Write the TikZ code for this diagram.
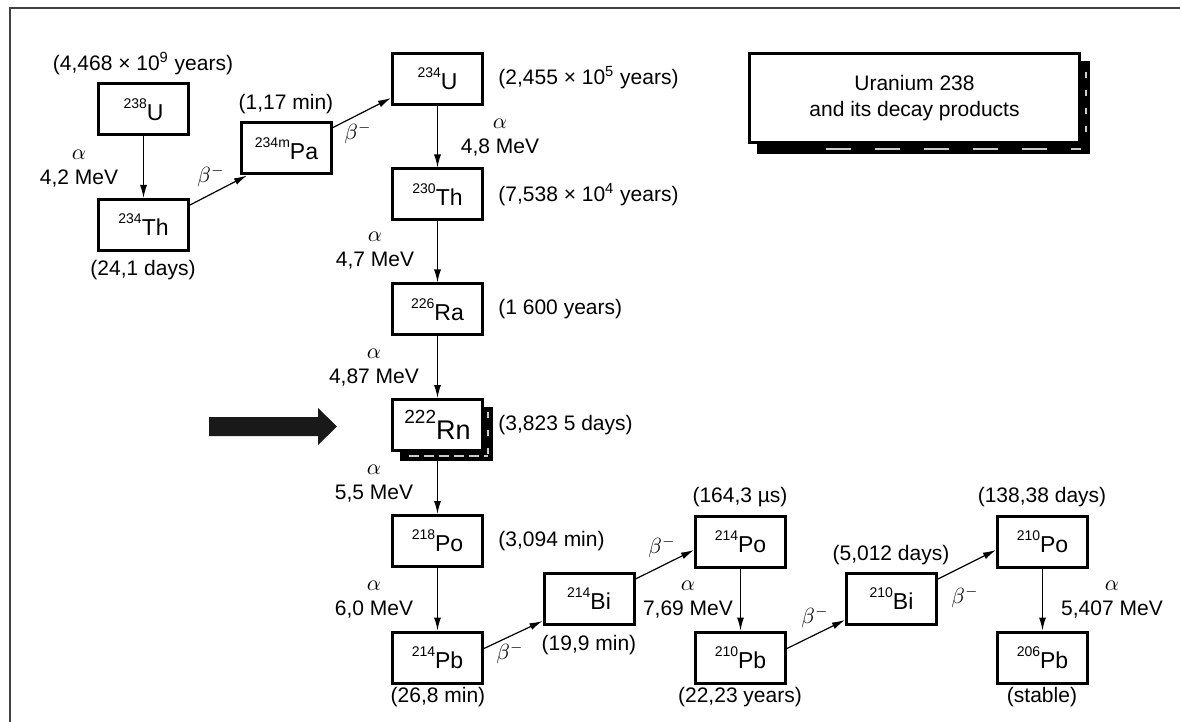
\documentclass[tikz,border=0pt]{standalone}
\usepackage{fontspec}
\setmainfont{Liberation Sans}
\usetikzlibrary{arrows.meta,positioning,calc,backgrounds}

\newcommand{\nucl}[2]{\raisebox{6pt}{\fontsize{7pt}{8pt}\selectfont #1}#2}

\begin{document}
\begin{tikzpicture}[x=0.5pt,y=-0.5pt,
    nuc/.style={draw, fill=white, line width=1.5pt, minimum width=45pt, minimum height=25.5pt, inner sep=0pt, font=\fontsize{11.5pt}{13pt}\selectfont},
    lbl/.style={font=\fontsize{10.5pt}{12.5pt}\selectfont, inner sep=0pt, align=center},
    decay/.style={-{Latex[length=6.5pt,width=3.5pt]}, line width=0.6pt},
    hdash/.style={draw=white!80!black, line width=0.6pt, dash pattern=on 5pt off 2.5pt},
    longdash/.style={draw=white!80!black, line width=0.6pt, dash pattern=on 12.5pt off 12pt},
    vdash/.style={draw=white!80!black, line width=0.6pt, dash pattern=on 3pt off 6pt}]
    \useasboundingbox (0,0) rectangle (1180,722);
    \draw[line width=1pt, black!75] (10,730) -- (10,8) -- (1190,8);

    % Uranium series
    \node[nuc] (u238) at (143.5,109.5) {\nucl{238}{U}};
    \node[nuc] (th234) at (143.5,225) {\nucl{234}{Th}};
    \node[nuc] (pa234) at (286.5,148.5) {\nucl{234m}{Pa}};
    \node[nuc] (u234) at (437.5,79) {\nucl{234}{U}};
    \node[nuc] (th230) at (437.5,194.5) {\nucl{230}{Th}};
    \node[nuc] (ra226) at (437.5,309.5) {\nucl{226}{Ra}};
    \node[nuc, font=\fontsize{13.5pt}{15pt}\selectfont] (rn222) at (437.5,425) {\raisebox{8pt}{\fontsize{9.5pt}{10pt}\selectfont 222}Rn};
    \node[nuc] (po218) at (437.5,541) {\nucl{218}{Po}};
    \node[nuc] (pb214) at (437.5,657.5) {\nucl{214}{Pb}};
    \node[nuc] (bi214) at (589,599) {\nucl{214}{Bi}};
    \node[nuc] (po214) at (740.5,542) {\nucl{214}{Po}};
    \node[nuc] (pb210) at (740.5,657.5) {\nucl{210}{Pb}};
    \node[nuc] (bi210) at (891.5,599) {\nucl{210}{Bi}};
    \node[nuc] (po210) at (1042.5,542) {\nucl{210}{Po}};
    \node[nuc] (pb206) at (1042.5,657.5) {\nucl{206}{Pb}};

    % Title
    \node[lbl, draw, fill=white, line width=1.5pt, minimum width=165pt, minimum height=44.5pt, font=\fontsize{10.5pt}{13pt}\selectfont] (title) at (914.5,98) {Uranium 238\\and its decay products};

    % Shadows
    \begin{scope}[on background layer]
        \fill ($(title.south west)+(9,10)$) rectangle ($(title.north east)+(9,9)$);
        \draw[longdash] ($(title.south west)+(78,5)$) -- ($(title.south east)+(0,5)$);
        \draw[vdash] ($(title.north east)+(5,20)$) -- ($(title.south east)+(5,0)$);
        \fill ($(rn222.south west)+(9,9)$) rectangle ($(rn222.north east)+(9,9)$);
        \draw[hdash] ($(rn222.south west)+(18,4)$) -- ($(rn222.south east)+(4,4)$);
        \draw[vdash] ($(rn222.north east)+(4,14)$) -- ($(rn222.south east)+(4,4)$);
    \end{scope}

    % Big arrow
    \fill[black!90] (209,417) -- (318,417) -- (318,408) -- (337,426.5) -- (318,445) -- (318,436) -- (209,436) -- cycle;

    % Arrows
    \draw[decay] (u238) -- (th234);
    \draw[decay] ([yshift=-3.5pt]th234.north east) -- ([xshift=3.5pt]pa234.south west);
    \draw[decay] ([yshift=-3pt]pa234.north east) -- ([yshift=4pt]u234.south west);
    \draw[decay] (u234) -- (th230);
    \draw[decay] (th230) -- (ra226);
    \draw[decay] (ra226) -- (rn222);
    \draw[decay] (rn222) -- (po218);
    \draw[decay] (po218) -- (pb214);
    \draw[decay] ([yshift=-9pt]pb214.north east) -- ([yshift=2.5pt]bi214.south west);
    \draw[decay] ([yshift=-3.5pt]bi214.north east) -- ([yshift=9.5pt]po214.south west);
    \draw[decay] (po214) -- (pb210);
    \draw[decay] ([yshift=-9pt]pb210.north east) -- ([yshift=3pt]bi210.south west);
    \draw[decay] ([yshift=-3.5pt]bi210.north east) -- ([yshift=9.5pt]po210.south west);
    \draw[decay] (po210) -- (pb206);

    % Labels
    \node[lbl] (tu238) at (143,64) {(4,468 × 10\textsuperscript{9} years)};
    \node[lbl] (au238) at (79,169) {$\alpha$\\4,2 MeV};
    \node[lbl] (tth234) at (143,270) {(24,1 days)};
    \node[lbl] (tpa234) at (286,104) {(1,17 min)};
    \node[lbl] (bth234) at (211,176) {$\beta^-$};
    \node[lbl] (bpa234) at (358,133) {$\beta^-$};
    \node[lbl, anchor=west] (tu234) at (498,78) {(2,455 × 10\textsuperscript{5} years)};
    \node[lbl] (au234) at (500,138) {$\alpha$\\4,8 MeV};
    \node[lbl, anchor=west] (tth230) at (498,195) {(7,538 × 10\textsuperscript{4} years)};
    \node[lbl] (ath230) at (375,251) {$\alpha$\\4,7 MeV};
    \node[lbl, anchor=west] (tra226) at (498,309) {(1 600 years)};
    \node[lbl] (ara226) at (374,368) {$\alpha$\\4,87 MeV};
    \node[lbl, anchor=west] (trn222) at (498,425) {(3,823 5 days)};
    \node[lbl] (arn222) at (374,484) {$\alpha$\\5,5 MeV};
    \node[lbl, anchor=west] (tpo218) at (498,541) {(3,094 min)};
    \node[lbl] (apo218) at (374,600) {$\alpha$\\6,0 MeV};
    \node[lbl] (tpb214) at (438,697) {(26,8 min)};
    \node[lbl] (bpb214) at (510,653) {$\beta^-$};
    \node[lbl] (tbi214) at (589,645) {(19,9 min)};
    \node[lbl] (bbi214) at (662,547) {$\beta^-$};
    \node[lbl] (tpo214) at (740,497) {(164,3 µs)};
    \node[lbl] (apo214) at (688,600) {$\alpha$\\7,69 MeV};
    \node[lbl] (tpb210) at (740,697) {(22,23 years)};
    \node[lbl] (bpb210) at (815,617) {$\beta^-$};
    \node[lbl] (tbi210) at (891,555) {(5,012 days)};
    \node[lbl] (bbi210) at (965,597) {$\beta^-$};
    \node[lbl] (tpo210) at (1042,497) {(138,38 days)};
    \node[lbl] (apo210) at (1112,600) {$\alpha$\\5,407 MeV};
    \node[lbl] (tpb206) at (1042,697) {(stable)};
\end{tikzpicture}
\end{document}
